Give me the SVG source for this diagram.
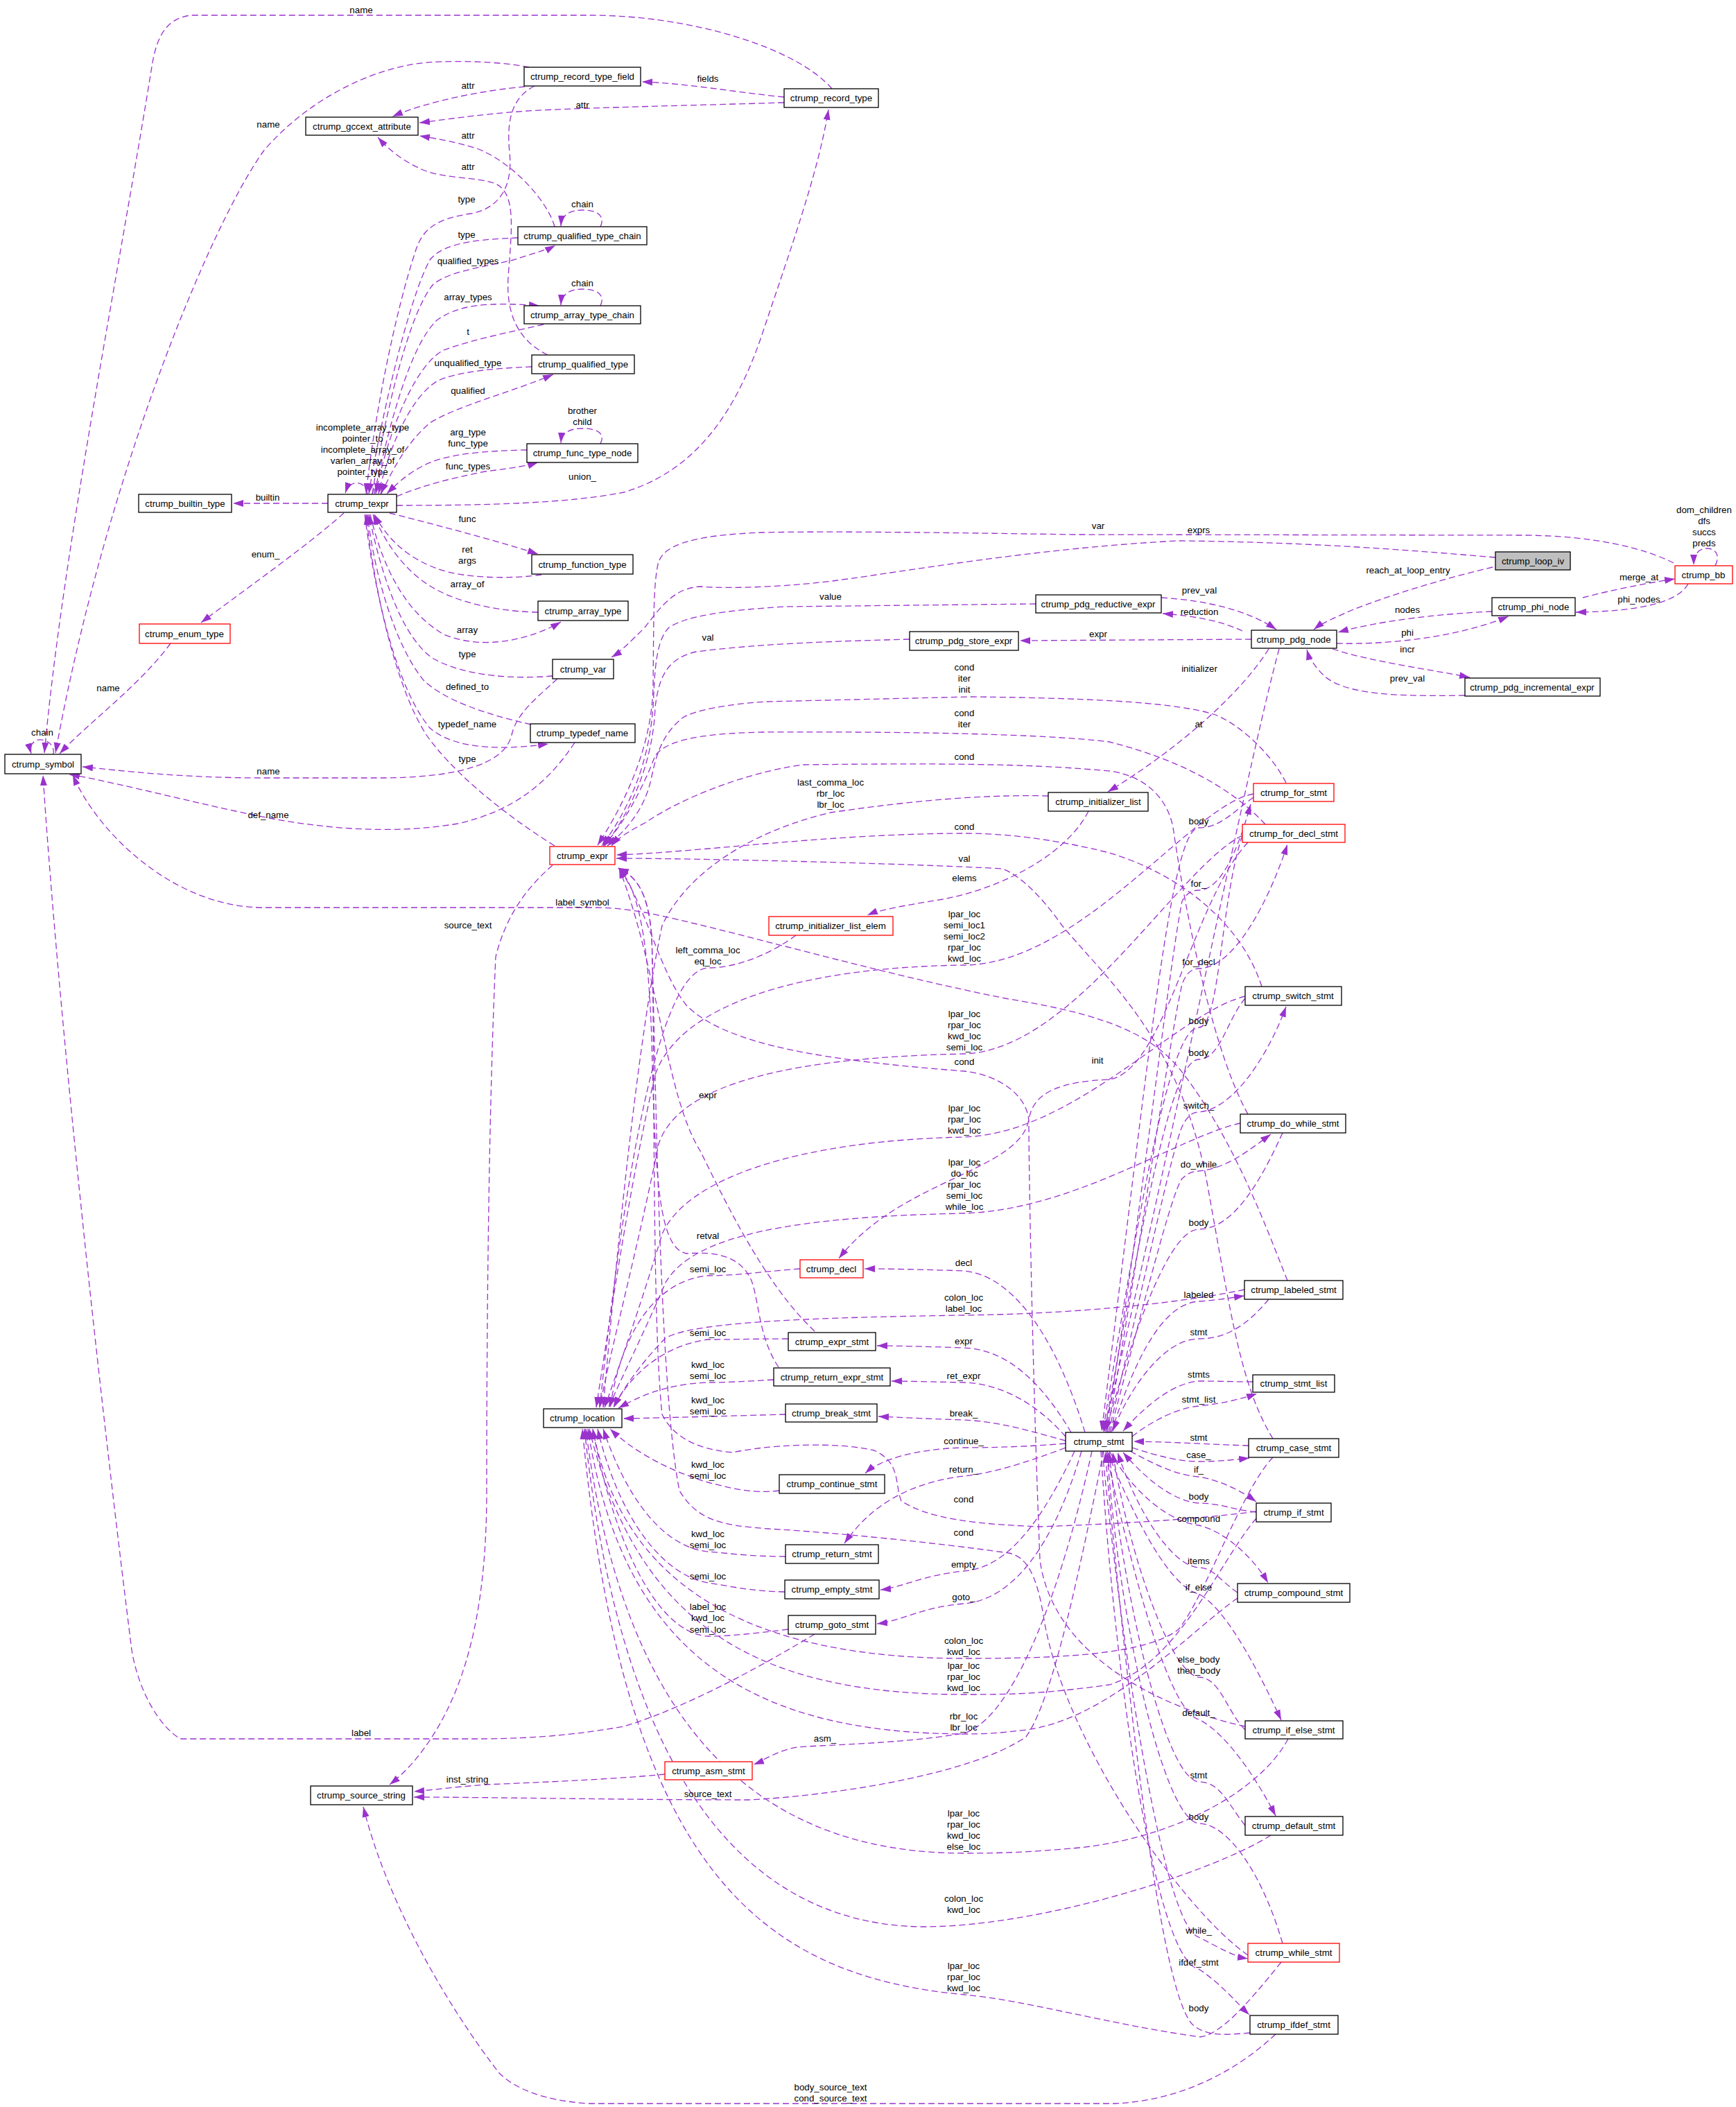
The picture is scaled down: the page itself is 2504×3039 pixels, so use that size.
<svg xmlns="http://www.w3.org/2000/svg" width="2504" height="3039" viewBox="0 0 2504 3039">
<style>
.bg{fill:#fff}
.node rect{fill:#fff;stroke:#000;stroke-width:1.3}
.node.red rect{stroke:#ff0000}
.node.cur rect{fill:#bfbfbf}
.node text{font-family:"Liberation Sans",Arial,sans-serif;font-size:13.3px;text-anchor:middle;fill:#000}
.e{fill:none;stroke:#9a32cd;stroke-width:1.3;stroke-dasharray:9,5;marker-end:url(#a)}
.l{font-family:"Liberation Sans",Arial,sans-serif;font-size:13.3px;text-anchor:middle;fill:#000}
</style>
<defs>
<marker id="a" markerUnits="userSpaceOnUse" markerWidth="16" markerHeight="12" refX="15" refY="6" orient="auto"><path d="M0,1 L15,6 L0,11 z" fill="#9a32cd"/></marker>
</defs>
<rect class="bg" x="0" y="0" width="2504" height="3039"/>
<g id="edges">
<path class="e" d="M 1200 128 C 1150 70, 1000 22, 850 22 L 275 22 C 245 26, 228 45, 220 90 C 170 400, 90 800, 64 1086"/>
<path class="e" d="M 763 97 C 720 88, 640 86, 600 92 C 500 108, 420 170, 380 218 C 300 330, 150 700, 80 1086"/>
<path class="e" d="M 1131 140 C 1060 133, 990 120, 926 118"/>
<path class="e" d="M 1131 148 C 1000 152, 850 155, 760 160 C 680 166, 640 173, 605 177"/>
<path class="e" d="M 757 125 C 700 130, 620 145, 566 168"/>
<path class="e" d="M 800 327 C 790 290, 740 235, 690 215 C 660 205, 630 200, 605 196"/>
<path class="e" d="M 790 512 C 745 490, 730 450, 733 400 C 738 330, 745 280, 715 265 C 690 255, 640 258, 610 245 C 580 232, 560 215, 545 198"/>
<path class="e" d="M 771 124 C 740 140, 730 170, 735 220 C 740 270, 720 300, 680 308 C 630 315, 610 330, 600 360 C 570 450, 540 600, 528 712"/>
<path class="e" d="M 747 343 C 700 345, 640 348, 620 375 C 590 430, 550 600, 532 712"/>
<path class="e" d="M 537 712 C 555 600, 590 450, 625 410 C 650 390, 700 385, 740 375 C 770 365, 790 360, 801 354"/>
<path class="e" d="M 866 327 C 874 310, 860 303, 840 303 C 822 303, 810 310, 809 326"/>
<path class="e" d="M 540 712 C 560 620, 590 500, 630 462 C 660 440, 700 435, 778 441"/>
<path class="e" d="M 866 441 C 874 424, 860 417, 840 417 C 822 417, 810 424, 809 440"/>
<path class="e" d="M 784 468 C 740 478, 680 490, 640 505 C 600 525, 560 620, 542 712"/>
<path class="e" d="M 767 529 C 720 531, 660 535, 630 550 C 590 575, 560 650, 546 712"/>
<path class="e" d="M 550 712 C 565 680, 585 640, 620 610 C 660 585, 740 565, 798 540"/>
<path class="e" d="M 760 649 C 700 650, 640 655, 610 672 C 585 685, 570 700, 558 712"/>
<path class="e" d="M 572 716 C 610 700, 650 690, 700 680 C 740 675, 760 672, 776 667"/>
<path class="e" d="M 866 640 C 874 624, 860 618, 840 618 C 822 618, 810 624, 809 639"/>
<path class="e" d="M 572 729 C 700 729, 820 726, 900 710 C 1000 680, 1060 600, 1100 480 C 1140 360, 1180 250, 1195 158"/>
<path class="e" d="M 530 713 C 528 693, 505 690, 498 711"/>
<path class="e" d="M 537 713 C 542 693, 558 693, 549 712"/>
<path class="e" d="M 473 726 L 336 726"/>
<path class="e" d="M 562 740 C 620 755, 700 775, 776 799"/>
<path class="e" d="M 781 829 C 740 835, 670 835, 630 820 C 590 805, 560 780, 540 742"/>
<path class="e" d="M 776 883 C 720 882, 660 870, 620 845 C 580 820, 555 780, 538 742"/>
<path class="e" d="M 534 742 C 550 810, 580 880, 640 915 C 700 940, 770 920, 809 897"/>
<path class="e" d="M 797 975 C 740 980, 670 975, 625 950 C 580 920, 550 830, 532 742"/>
<path class="e" d="M 766 1045 C 700 1030, 640 1010, 610 980 C 570 930, 540 830, 530 742"/>
<path class="e" d="M 526 742 C 540 850, 570 990, 620 1050 C 660 1085, 740 1080, 791 1073"/>
<path class="e" d="M 804 979 C 770 1010, 745 1030, 738 1060 C 730 1095, 680 1120, 560 1122 L 380 1122 C 260 1122, 180 1112, 119 1106"/>
<path class="e" d="M 829 1071 C 790 1130, 740 1170, 660 1188 C 560 1205, 450 1195, 340 1170 C 240 1148, 150 1125, 100 1117"/>
<path class="e" d="M 246 928 C 200 990, 130 1040, 86 1087"/>
<path class="e" d="M 496 740 C 440 790, 340 860, 290 898"/>
<path class="e" d="M 77 1088 C 80 1070, 60 1064, 52 1068 C 44 1072, 43 1080, 45 1087"/>
<path class="e" d="M 800 1220 C 720 1170, 650 1110, 615 1060 C 570 990, 540 850, 528 742"/>
<path class="e" d="M 1857 1847 C 1830 1780, 1780 1640, 1700 1540 C 1650 1480, 1560 1458, 1450 1440 C 1250 1400, 1050 1340, 930 1316 C 900 1311, 880 1309, 860 1309 L 380 1309 C 250 1309, 140 1200, 105 1118"/>
<path class="e" d="M 797 1248 C 760 1280, 730 1320, 715 1380 C 705 1600, 702 1900, 702 2150 C 702 2300, 680 2420, 620 2510 C 600 2540, 580 2560, 562 2574"/>
<path class="e" d="M 1175 2357 C 1120 2390, 1000 2460, 900 2490 C 800 2508, 720 2508, 680 2508 L 260 2508 C 230 2490, 200 2440, 190 2380 C 130 1900, 80 1400, 62 1118"/>
<path class="e" d="M 959 2559 C 900 2565, 800 2570, 700 2574 C 650 2578, 620 2582, 597 2584"/>
<path class="e" d="M 1592 2093 C 1560 2250, 1520 2450, 1480 2505 C 1400 2560, 1200 2590, 1080 2596 C 900 2596, 700 2592, 597 2592"/>
<path class="e" d="M 1840 2934 C 1780 2990, 1700 3030, 1608 3034 L 850 3034 C 780 3030, 740 3010, 720 2990 C 650 2900, 560 2750, 524 2606"/>
<path class="e" d="M 2157 804 C 2050 795, 1900 782, 1700 780 C 1500 790, 1300 825, 1208 837 C 1150 845, 1060 850, 1010 846 C 970 848, 950 880, 930 905 C 910 925, 895 940, 882 948"/>
<path class="e" d="M 2414 812 C 2370 790, 2300 773, 2200 772 L 1550 771 C 1350 768, 1200 766, 1100 768 C 1000 772, 960 785, 950 810 C 942 840, 943 900, 942 990 C 940 1080, 900 1160, 862 1219"/>
<path class="e" d="M 2153 818 C 2080 835, 2000 860, 1950 880 C 1920 893, 1905 900, 1895 908"/>
<path class="e" d="M 1675 862 C 1740 866, 1800 880, 1841 908"/>
<path class="e" d="M 1792 910 C 1760 895, 1720 888, 1677 885"/>
<path class="e" d="M 1805 922 L 1471 924"/>
<path class="e" d="M 2152 882 C 2080 885, 1990 895, 1930 912"/>
<path class="e" d="M 1928 928 C 2000 930, 2100 920, 2176 889"/>
<path class="e" d="M 1922 936 C 1980 955, 2060 965, 2120 977"/>
<path class="e" d="M 2113 1003 C 2000 1005, 1940 1000, 1910 975 C 1895 960, 1888 948, 1885 937"/>
<path class="e" d="M 2283 862 C 2320 852, 2380 840, 2416 835"/>
<path class="e" d="M 2435 842 C 2420 870, 2360 882, 2273 883"/>
<path class="e" d="M 2474 816 C 2482 800, 2474 791, 2462 791 C 2450 791, 2443 800, 2443 815"/>
<path class="e" d="M 1494 871 L 1132 875 C 1050 880, 990 888, 965 905 C 950 920, 945 950, 943 1000 C 940 1100, 905 1170, 868 1220"/>
<path class="e" d="M 1312 922 C 1200 925, 1100 928, 1004 940 C 960 950, 950 980, 945 1020 C 942 1100, 910 1170, 872 1220"/>
<path class="e" d="M 1830 936 C 1790 1000, 1700 1080, 1598 1142"/>
<path class="e" d="M 1845 936 C 1800 1100, 1680 1700, 1592 2065"/>
<path class="e" d="M 1855 1129 C 1830 1080, 1780 1040, 1750 1030 C 1700 1015, 1600 1007, 1400 1005 L 1106 1012 C 1050 1015, 1000 1025, 985 1035 C 960 1055, 948 1080, 940 1120 C 930 1170, 900 1200, 876 1220"/>
<path class="e" d="M 1825 1189 C 1790 1150, 1720 1100, 1600 1070 C 1500 1058, 1300 1055, 1100 1056 C 1000 1058, 960 1070, 945 1090 C 930 1130, 900 1190, 870 1220"/>
<path class="e" d="M 1800 1607 C 1740 1500, 1700 1250, 1693 1200 C 1688 1160, 1660 1120, 1600 1112 C 1500 1103, 1400 1100, 1159 1103 C 1100 1110, 1000 1140, 930 1187 C 905 1200, 890 1210, 882 1220"/>
<path class="e" d="M 1820 1423 C 1790 1330, 1700 1260, 1600 1230 C 1520 1210, 1450 1202, 1391 1202 C 1200 1202, 1000 1230, 889 1233"/>
<path class="e" d="M 1836 2075 C 1790 2000, 1776 1900, 1740 1700 C 1700 1500, 1600 1416, 1532 1335 C 1500 1290, 1470 1262, 1446 1253 C 1300 1245, 1000 1238, 889 1238"/>
<path class="e" d="M 1796 2490 C 1700 2470, 1520 2400, 1500 2250 C 1490 2000, 1484 1700, 1484 1620 C 1484 1580, 1440 1550, 1391 1545 C 1200 1530, 1050 1510, 990 1450 C 950 1400, 930 1300, 892 1252"/>
<path class="e" d="M 1812 2180 C 1700 2195, 1550 2200, 1500 2202 C 1400 2198, 1340 2190, 1300 2165 C 1290 2140, 1300 2110, 1261 2092 C 1200 2078, 1100 2085, 1057 2095 C 1000 2090, 970 2070, 955 2040 C 940 1900, 945 1500, 940 1350 C 935 1290, 920 1265, 892 1252"/>
<path class="e" d="M 1800 2820 C 1700 2750, 1530 2500, 1505 2330 C 1495 2270, 1480 2245, 1455 2240 C 1350 2225, 1200 2210, 1108 2205 C 1040 2200, 1006 2193, 980 2150 C 950 2000, 945 1500, 940 1350 C 935 1290, 920 1265, 892 1252"/>
<path class="e" d="M 1595 2066 C 1640 1800, 1685 1400, 1705 1300 C 1710 1290, 1718 1284, 1729 1284 C 1765 1284, 1790 1210, 1804 1160"/>
<path class="e" d="M 1597 2066 C 1645 1800, 1690 1480, 1705 1420 C 1710 1405, 1718 1397, 1729 1397 C 1780 1397, 1830 1300, 1857 1218"/>
<path class="e" d="M 1599 2066 C 1650 1850, 1690 1660, 1705 1625 C 1712 1610, 1720 1604, 1729 1604 C 1780 1600, 1830 1520, 1855 1452"/>
<path class="e" d="M 1601 2066 C 1650 1880, 1690 1720, 1705 1700 C 1712 1693, 1720 1689, 1729 1689 C 1770 1685, 1800 1660, 1833 1636"/>
<path class="e" d="M 1603 2066 C 1640 1950, 1680 1880, 1729 1877 C 1760 1875, 1780 1871, 1795 1869"/>
<path class="e" d="M 1633 2072 C 1660 2050, 1700 2030, 1729 2028 C 1760 2025, 1790 2018, 1813 2010"/>
<path class="e" d="M 1633 2088 C 1670 2100, 1700 2108, 1729 2108 C 1760 2108, 1785 2105, 1802 2103"/>
<path class="e" d="M 1630 2093 C 1670 2115, 1700 2128, 1729 2130 C 1760 2135, 1790 2150, 1812 2166"/>
<path class="e" d="M 1600 2093 C 1640 2160, 1690 2195, 1729 2200 C 1770 2210, 1810 2250, 1829 2283"/>
<path class="e" d="M 1597 2093 C 1640 2200, 1690 2290, 1729 2299 C 1770 2320, 1820 2420, 1848 2481"/>
<path class="e" d="M 1595 2093 C 1640 2300, 1690 2470, 1729 2480 C 1770 2500, 1815 2570, 1840 2619"/>
<path class="e" d="M 1590 2093 C 1620 2400, 1680 2780, 1729 2794 C 1760 2810, 1780 2822, 1800 2825"/>
<path class="e" d="M 1588 2093 C 1610 2450, 1670 2830, 1729 2840 C 1760 2860, 1785 2890, 1802 2906"/>
<path class="e" d="M 1808 1150 C 1780 1170, 1760 1194, 1729 1194 C 1690 1194, 1660 1500, 1589 2064"/>
<path class="e" d="M 1792 1205 C 1760 1300, 1760 1482, 1729 1482 C 1690 1482, 1650 1700, 1591 2064"/>
<path class="e" d="M 1796 1440 C 1770 1470, 1760 1528, 1729 1528 C 1690 1528, 1650 1750, 1593 2064"/>
<path class="e" d="M 1850 1634 C 1820 1700, 1780 1773, 1729 1773 C 1690 1773, 1640 1900, 1595 2064"/>
<path class="e" d="M 1830 1874 C 1800 1910, 1770 1931, 1729 1931 C 1680 1931, 1630 2000, 1605 2064"/>
<path class="e" d="M 1807 1993 C 1780 1993, 1760 1992, 1729 1992 C 1690 1995, 1650 2030, 1620 2064"/>
<path class="e" d="M 1801 2085 C 1760 2084, 1700 2080, 1635 2079"/>
<path class="e" d="M 1812 2181 C 1780 2178, 1760 2168, 1729 2168 C 1690 2165, 1650 2130, 1620 2095"/>
<path class="e" d="M 1785 2297 C 1760 2280, 1750 2261, 1729 2261 C 1690 2258, 1640 2180, 1612 2095"/>
<path class="e" d="M 1796 2495 C 1770 2470, 1760 2419, 1729 2419 C 1690 2415, 1630 2250, 1605 2095"/>
<path class="e" d="M 1796 2633 C 1770 2600, 1760 2570, 1729 2570 C 1680 2565, 1620 2300, 1600 2095"/>
<path class="e" d="M 1850 2803 C 1820 2700, 1770 2630, 1729 2630 C 1680 2625, 1615 2350, 1597 2095"/>
<path class="e" d="M 1803 2932 C 1770 2935, 1740 2938, 1720 2920 C 1690 2889, 1650 2700, 1594 2095"/>
<path class="e" d="M 1565 2066 C 1530 1950, 1470 1840, 1390 1833 C 1330 1831, 1280 1830, 1247 1830"/>
<path class="e" d="M 1545 2066 C 1500 1990, 1450 1946, 1390 1944 C 1330 1942, 1290 1941, 1265 1941"/>
<path class="e" d="M 1537 2072 C 1500 2030, 1450 1996, 1390 1994 C 1340 1993, 1310 1992, 1286 1992"/>
<path class="e" d="M 1537 2078 C 1490 2065, 1440 2050, 1390 2048 C 1330 2046, 1290 2044, 1267 2043"/>
<path class="e" d="M 1537 2082 C 1490 2086, 1440 2088, 1390 2088 C 1320 2090, 1270 2105, 1248 2125"/>
<path class="e" d="M 1537 2088 C 1480 2110, 1430 2125, 1390 2129 C 1300 2140, 1250 2180, 1218 2226"/>
<path class="e" d="M 1550 2093 C 1500 2200, 1450 2262, 1390 2266 C 1330 2272, 1300 2290, 1270 2293"/>
<path class="e" d="M 1560 2093 C 1520 2230, 1460 2308, 1390 2313 C 1330 2318, 1300 2338, 1265 2342"/>
<path class="e" d="M 1575 2093 C 1530 2300, 1460 2480, 1390 2500 C 1300 2515, 1200 2516, 1150 2520 C 1120 2525, 1100 2540, 1087 2545"/>
<path class="e" d="M 1154 1830 C 1100 1834, 1060 1840, 1021 1840 C 960 1845, 900 1900, 880 2030"/>
<path class="e" d="M 1137 1931 C 1090 1931, 1060 1932, 1021 1932 C 960 1940, 910 1980, 885 2030"/>
<path class="e" d="M 1116 1990 C 1080 1992, 1050 1994, 1021 1994 C 960 1996, 920 2015, 892 2031"/>
<path class="e" d="M 1133 2040 C 1060 2042, 960 2045, 899 2046"/>
<path class="e" d="M 1124 2150 C 1080 2155, 1050 2145, 1021 2138 C 960 2120, 910 2090, 880 2061"/>
<path class="e" d="M 1133 2245 C 1080 2245, 1050 2240, 1021 2238 C 950 2230, 900 2150, 870 2061"/>
<path class="e" d="M 1132 2296 C 1080 2295, 1050 2287, 1021 2283 C 950 2270, 890 2180, 862 2061"/>
<path class="e" d="M 1137 2350 C 1090 2356, 1050 2360, 1021 2360 C 940 2355, 880 2200, 855 2061"/>
<path class="e" d="M 1148 1349 C 1120 1370, 1070 1396, 1021 1396 C 950 1400, 900 1700, 865 2030"/>
<path class="e" d="M 1512 1148 C 1400 1145, 1280 1160, 1198 1172 C 1080 1200, 990 1260, 955 1335 C 920 1500, 890 1800, 870 2030"/>
<path class="e" d="M 1175 1920 C 1100 1850, 1040 1720, 1010 1660 C 960 1580, 950 1400, 893 1252"/>
<path class="e" d="M 1123 1972 C 1095 1930, 1095 1880, 1085 1850 C 1070 1810, 1030 1805, 990 1808 C 950 1800, 945 1700, 940 1500 C 935 1350, 920 1280, 892 1252"/>
<path class="e" d="M 1808 1145 C 1720 1160, 1560 1390, 1391 1392 C 1150 1395, 980 1450, 945 1550 C 910 1700, 880 1900, 860 2030"/>
<path class="e" d="M 1792 1205 C 1700 1250, 1550 1515, 1391 1520 C 1150 1525, 980 1560, 950 1650 C 920 1800, 880 1950, 865 2030"/>
<path class="e" d="M 1796 1437 C 1700 1460, 1550 1635, 1391 1640 C 1150 1645, 990 1700, 955 1780 C 925 1880, 890 1980, 872 2030"/>
<path class="e" d="M 1789 1620 C 1700 1640, 1550 1745, 1391 1750 C 1150 1755, 1000 1780, 960 1850 C 930 1920, 895 1990, 878 2030"/>
<path class="e" d="M 1795 1860 C 1700 1880, 1550 1895, 1391 1897 C 1200 1900, 1000 1905, 960 1930 C 930 1960, 900 2000, 885 2030"/>
<path class="e" d="M 1836 2102 C 1790 2150, 1740 2300, 1700 2350 C 1650 2390, 1500 2392, 1391 2392 C 1100 2392, 900 2300, 855 2061"/>
<path class="e" d="M 1812 2190 C 1760 2250, 1700 2400, 1600 2430 C 1500 2444, 1450 2444, 1391 2444 C 1100 2444, 920 2350, 850 2061"/>
<path class="e" d="M 1785 2305 C 1720 2350, 1600 2480, 1480 2495 C 1440 2500, 1420 2501, 1391 2501 C 1100 2500, 900 2400, 848 2061"/>
<path class="e" d="M 1858 2508 C 1820 2580, 1700 2650, 1557 2665 C 1480 2672, 1440 2673, 1391 2673 C 1100 2673, 900 2500, 845 2061"/>
<path class="e" d="M 1833 2647 C 1750 2700, 1500 2780, 1328 2779 C 1100 2775, 900 2600, 843 2061"/>
<path class="e" d="M 1848 2830 C 1800 2890, 1760 2935, 1731 2938 C 1600 2920, 1480 2885, 1391 2877 C 1100 2850, 900 2700, 840 2061"/>
<path class="e" d="M 1800 1215 C 1720 1300, 1680 1545, 1600 1557 C 1530 1560, 1490 1575, 1484 1615 C 1470 1690, 1300 1700, 1210 1815"/>
<path class="e" d="M 1570 1170 C 1540 1230, 1450 1280, 1360 1297 C 1310 1305, 1270 1312, 1251 1320"/>
</g>
<g id="labels">
<text class="l" x="521" y="19">name</text>
<text class="l" x="387" y="184">name</text>
<text class="l" x="1021" y="118">fields</text>
<text class="l" x="840" y="156">attr</text>
<text class="l" x="675" y="128">attr</text>
<text class="l" x="675" y="200">attr</text>
<text class="l" x="675" y="245">attr</text>
<text class="l" x="673" y="292">type</text>
<text class="l" x="673" y="343">type</text>
<text class="l" x="675" y="381">qualified_types</text>
<text class="l" x="840" y="299">chain</text>
<text class="l" x="675" y="433">array_types</text>
<text class="l" x="840" y="413">chain</text>
<text class="l" x="675" y="483">t</text>
<text class="l" x="675" y="528">unqualified_type</text>
<text class="l" x="675" y="568">qualified</text>
<text class="l" x="675" y="628">arg_type</text>
<text class="l" x="675" y="644">func_type</text>
<text class="l" x="675" y="677">func_types</text>
<text class="l" x="840" y="597">brother</text>
<text class="l" x="840" y="613">child</text>
<text class="l" x="840" y="692">union_</text>
<text class="l" x="523" y="621">incomplete_array_type</text>
<text class="l" x="523" y="637">pointer_to</text>
<text class="l" x="523" y="653">incomplete_array_of</text>
<text class="l" x="523" y="669">varlen_array_of</text>
<text class="l" x="523" y="685">pointer_type</text>
<text class="l" x="386" y="722">builtin</text>
<text class="l" x="674" y="753">func</text>
<text class="l" x="674" y="797">ret</text>
<text class="l" x="674" y="813">args</text>
<text class="l" x="674" y="847">array_of</text>
<text class="l" x="674" y="913">array</text>
<text class="l" x="674" y="948">type</text>
<text class="l" x="674" y="995">defined_to</text>
<text class="l" x="674" y="1049">typedef_name</text>
<text class="l" x="674" y="1099">type</text>
<text class="l" x="387" y="1117">name</text>
<text class="l" x="387" y="1180">def_name</text>
<text class="l" x="156" y="997">name</text>
<text class="l" x="383" y="804">enum_</text>
<text class="l" x="61" y="1061">chain</text>
<text class="l" x="840" y="1306">label_symbol</text>
<text class="l" x="675" y="1339">source_text</text>
<text class="l" x="521" y="2504">label</text>
<text class="l" x="674" y="2571">inst_string</text>
<text class="l" x="1021" y="2592">source_text</text>
<text class="l" x="1198" y="3015">body_source_text</text>
<text class="l" x="1198" y="3031">cond_source_text</text>
<text class="l" x="1584" y="763">var</text>
<text class="l" x="1729" y="769">exprs</text>
<text class="l" x="2031" y="827">reach_at_loop_entry</text>
<text class="l" x="1730" y="856">prev_val</text>
<text class="l" x="1730" y="887">reduction</text>
<text class="l" x="1584" y="919">expr</text>
<text class="l" x="2030" y="884">nodes</text>
<text class="l" x="2030" y="917">phi</text>
<text class="l" x="2030" y="941">incr</text>
<text class="l" x="2030" y="983">prev_val</text>
<text class="l" x="2364" y="837">merge_at</text>
<text class="l" x="2364" y="869">phi_nodes</text>
<text class="l" x="2458" y="740">dom_children</text>
<text class="l" x="2458" y="756">dfs</text>
<text class="l" x="2458" y="772">succs</text>
<text class="l" x="2458" y="788">preds</text>
<text class="l" x="1198" y="865">value</text>
<text class="l" x="1021" y="924">val</text>
<text class="l" x="1730" y="969">initializer</text>
<text class="l" x="1729" y="1049">at</text>
<text class="l" x="1391" y="967">cond</text>
<text class="l" x="1391" y="983">iter</text>
<text class="l" x="1391" y="999">init</text>
<text class="l" x="1391" y="1033">cond</text>
<text class="l" x="1391" y="1049">iter</text>
<text class="l" x="1391" y="1096">cond</text>
<text class="l" x="1198" y="1133">last_comma_loc</text>
<text class="l" x="1198" y="1149">rbr_loc</text>
<text class="l" x="1198" y="1165">lbr_loc</text>
<text class="l" x="1391" y="1197">cond</text>
<text class="l" x="1391" y="1243">val</text>
<text class="l" x="1391" y="1271">elems</text>
<text class="l" x="1391" y="1323">lpar_loc</text>
<text class="l" x="1391" y="1339">semi_loc1</text>
<text class="l" x="1391" y="1355">semi_loc2</text>
<text class="l" x="1391" y="1371">rpar_loc</text>
<text class="l" x="1391" y="1387">kwd_loc</text>
<text class="l" x="1021" y="1375">left_comma_loc</text>
<text class="l" x="1021" y="1391">eq_loc</text>
<text class="l" x="1391" y="1467">lpar_loc</text>
<text class="l" x="1391" y="1483">rpar_loc</text>
<text class="l" x="1391" y="1499">kwd_loc</text>
<text class="l" x="1391" y="1515">semi_loc</text>
<text class="l" x="1391" y="1536">cond</text>
<text class="l" x="1583" y="1534">init</text>
<text class="l" x="1021" y="1584">expr</text>
<text class="l" x="1391" y="1603">lpar_loc</text>
<text class="l" x="1391" y="1619">rpar_loc</text>
<text class="l" x="1391" y="1635">kwd_loc</text>
<text class="l" x="1391" y="1681">lpar_loc</text>
<text class="l" x="1391" y="1697">do_loc</text>
<text class="l" x="1391" y="1713">rpar_loc</text>
<text class="l" x="1391" y="1729">semi_loc</text>
<text class="l" x="1391" y="1745">while_loc</text>
<text class="l" x="1729" y="1189">body</text>
<text class="l" x="1729" y="1279">for_</text>
<text class="l" x="1729" y="1392">for_decl</text>
<text class="l" x="1729" y="1477">body</text>
<text class="l" x="1729" y="1523">body</text>
<text class="l" x="1729" y="1599">switch_</text>
<text class="l" x="1729" y="1684">do_while</text>
<text class="l" x="1729" y="1768">body</text>
<text class="l" x="1729" y="1872">labeled</text>
<text class="l" x="1729" y="1926">stmt</text>
<text class="l" x="1729" y="1987">stmts</text>
<text class="l" x="1729" y="2023">stmt_list</text>
<text class="l" x="1729" y="2078">stmt</text>
<text class="l" x="1729" y="2103">case_</text>
<text class="l" x="1729" y="2124">if_</text>
<text class="l" x="1729" y="2163">body</text>
<text class="l" x="1729" y="2195">compound</text>
<text class="l" x="1729" y="2256">items</text>
<text class="l" x="1729" y="2294">if_else</text>
<text class="l" x="1729" y="2398">else_body</text>
<text class="l" x="1729" y="2414">then_body</text>
<text class="l" x="1729" y="2475">default_</text>
<text class="l" x="1729" y="2565">stmt</text>
<text class="l" x="1729" y="2625">body</text>
<text class="l" x="1729" y="2789">while_</text>
<text class="l" x="1729" y="2835">ifdef_stmt</text>
<text class="l" x="1729" y="2901">body</text>
<text class="l" x="1021" y="1787">retval</text>
<text class="l" x="1021" y="1835">semi_loc</text>
<text class="l" x="1021" y="1927">semi_loc</text>
<text class="l" x="1021" y="1973">kwd_loc</text>
<text class="l" x="1021" y="1989">semi_loc</text>
<text class="l" x="1021" y="2024">kwd_loc</text>
<text class="l" x="1021" y="2040">semi_loc</text>
<text class="l" x="1021" y="2117">kwd_loc</text>
<text class="l" x="1021" y="2133">semi_loc</text>
<text class="l" x="1021" y="2217">kwd_loc</text>
<text class="l" x="1021" y="2233">semi_loc</text>
<text class="l" x="1021" y="2278">semi_loc</text>
<text class="l" x="1021" y="2322">label_loc</text>
<text class="l" x="1021" y="2338">kwd_loc</text>
<text class="l" x="1021" y="2355">semi_loc</text>
<text class="l" x="1390" y="1826">decl</text>
<text class="l" x="1390" y="1876">colon_loc</text>
<text class="l" x="1390" y="1892">label_loc</text>
<text class="l" x="1390" y="1939">expr</text>
<text class="l" x="1390" y="1989">ret_expr</text>
<text class="l" x="1390" y="2043">break_</text>
<text class="l" x="1390" y="2083">continue_</text>
<text class="l" x="1390" y="2124">return_</text>
<text class="l" x="1390" y="2167">cond</text>
<text class="l" x="1390" y="2215">cond</text>
<text class="l" x="1390" y="2261">empty</text>
<text class="l" x="1390" y="2308">goto_</text>
<text class="l" x="1390" y="2371">colon_loc</text>
<text class="l" x="1390" y="2387">kwd_loc</text>
<text class="l" x="1390" y="2407">lpar_loc</text>
<text class="l" x="1390" y="2423">rpar_loc</text>
<text class="l" x="1390" y="2439">kwd_loc</text>
<text class="l" x="1390" y="2480">rbr_loc</text>
<text class="l" x="1390" y="2496">lbr_loc</text>
<text class="l" x="1190" y="2512">asm_</text>
<text class="l" x="1390" y="2620">lpar_loc</text>
<text class="l" x="1390" y="2636">rpar_loc</text>
<text class="l" x="1390" y="2652">kwd_loc</text>
<text class="l" x="1390" y="2668">else_loc</text>
<text class="l" x="1390" y="2743">colon_loc</text>
<text class="l" x="1390" y="2759">kwd_loc</text>
<text class="l" x="1390" y="2840">lpar_loc</text>
<text class="l" x="1390" y="2856">rpar_loc</text>
<text class="l" x="1390" y="2872">kwd_loc</text>
</g>
<g id="n-record_type_field" class="node"><rect x="756" y="97" width="168" height="27"/><text x="840" y="115">ctrump_record_type_field</text></g>
<g id="n-record_type" class="node"><rect x="1131" y="128" width="136" height="27"/><text x="1199" y="146">ctrump_record_type</text></g>
<g id="n-gccext_attribute" class="node"><rect x="441" y="169" width="162" height="26"/><text x="522" y="187">ctrump_gccext_attribute</text></g>
<g id="n-qualified_type_chain" class="node"><rect x="747" y="327" width="186" height="26"/><text x="840" y="345">ctrump_qualified_type_chain</text></g>
<g id="n-array_type_chain" class="node"><rect x="756" y="441" width="168" height="26"/><text x="840" y="459">ctrump_array_type_chain</text></g>
<g id="n-qualified_type" class="node"><rect x="767" y="512" width="148" height="27"/><text x="841" y="530">ctrump_qualified_type</text></g>
<g id="n-func_type_node" class="node"><rect x="760" y="640" width="160" height="27"/><text x="840" y="658">ctrump_func_type_node</text></g>
<g id="n-builtin_type" class="node"><rect x="200" y="713" width="134" height="26"/><text x="267" y="731">ctrump_builtin_type</text></g>
<g id="n-texpr" class="node"><rect x="473" y="713" width="99" height="26"/><text x="522" y="731">ctrump_texpr</text></g>
<g id="n-function_type" class="node"><rect x="767" y="800" width="146" height="28"/><text x="840" y="819">ctrump_function_type</text></g>
<g id="n-array_type" class="node"><rect x="776" y="867" width="130" height="28"/><text x="841" y="886">ctrump_array_type</text></g>
<g id="n-var" class="node"><rect x="797" y="951" width="88" height="28"/><text x="841" y="970">ctrump_var</text></g>
<g id="n-typedef_name" class="node"><rect x="765" y="1044" width="151" height="27"/><text x="840" y="1062">ctrump_typedef_name</text></g>
<g id="n-enum_type" class="node red"><rect x="201" y="900" width="131" height="28"/><text x="266" y="919">ctrump_enum_type</text></g>
<g id="n-symbol" class="node"><rect x="7" y="1088" width="110" height="28"/><text x="62" y="1107">ctrump_symbol</text></g>
<g id="n-expr" class="node red"><rect x="793" y="1221" width="94" height="26"/><text x="840" y="1239">ctrump_expr</text></g>
<g id="n-loop_iv" class="node cur"><rect x="2157" y="796" width="108" height="26"/><text x="2211" y="814">ctrump_loop_iv</text></g>
<g id="n-bb" class="node red"><rect x="2416" y="816" width="83" height="26"/><text x="2457" y="834">ctrump_bb</text></g>
<g id="n-pdg_reductive_expr" class="node"><rect x="1494" y="858" width="181" height="26"/><text x="1584" y="876">ctrump_pdg_reductive_expr</text></g>
<g id="n-pdg_node" class="node"><rect x="1805" y="909" width="123" height="26"/><text x="1866" y="927">ctrump_pdg_node</text></g>
<g id="n-phi_node" class="node"><rect x="2152" y="862" width="120" height="26"/><text x="2212" y="880">ctrump_phi_node</text></g>
<g id="n-pdg_store_expr" class="node"><rect x="1312" y="911" width="157" height="27"/><text x="1390" y="929">ctrump_pdg_store_expr</text></g>
<g id="n-pdg_incremental_expr" class="node"><rect x="2113" y="978" width="195" height="26"/><text x="2210" y="996">ctrump_pdg_incremental_expr</text></g>
<g id="n-initializer_list" class="node"><rect x="1512" y="1143" width="144" height="27"/><text x="1584" y="1161">ctrump_initializer_list</text></g>
<g id="n-for_stmt" class="node red"><rect x="1808" y="1130" width="116" height="26"/><text x="1866" y="1148">ctrump_for_stmt</text></g>
<g id="n-for_decl_stmt" class="node red"><rect x="1792" y="1189" width="148" height="26"/><text x="1866" y="1207">ctrump_for_decl_stmt</text></g>
<g id="n-initializer_list_elem" class="node red"><rect x="1109" y="1322" width="179" height="27"/><text x="1198" y="1340">ctrump_initializer_list_elem</text></g>
<g id="n-switch_stmt" class="node"><rect x="1796" y="1423" width="139" height="27"/><text x="1865" y="1441">ctrump_switch_stmt</text></g>
<g id="n-do_while_stmt" class="node"><rect x="1789" y="1607" width="152" height="27"/><text x="1865" y="1625">ctrump_do_while_stmt</text></g>
<g id="n-decl" class="node red"><rect x="1154" y="1817" width="91" height="26"/><text x="1199" y="1835">ctrump_decl</text></g>
<g id="n-labeled_stmt" class="node"><rect x="1795" y="1847" width="142" height="27"/><text x="1866" y="1865">ctrump_labeled_stmt</text></g>
<g id="n-expr_stmt" class="node"><rect x="1137" y="1922" width="126" height="26"/><text x="1200" y="1940">ctrump_expr_stmt</text></g>
<g id="n-return_expr_stmt" class="node"><rect x="1116" y="1973" width="168" height="26"/><text x="1200" y="1991">ctrump_return_expr_stmt</text></g>
<g id="n-stmt_list" class="node"><rect x="1807" y="1983" width="118" height="25"/><text x="1866" y="2000">ctrump_stmt_list</text></g>
<g id="n-break_stmt" class="node"><rect x="1133" y="2025" width="132" height="26"/><text x="1199" y="2043">ctrump_break_stmt</text></g>
<g id="n-location" class="node"><rect x="784" y="2032" width="113" height="27"/><text x="840" y="2050">ctrump_location</text></g>
<g id="n-stmt" class="node"><rect x="1537" y="2066" width="96" height="27"/><text x="1585" y="2084">ctrump_stmt</text></g>
<g id="n-case_stmt" class="node"><rect x="1801" y="2075" width="130" height="27"/><text x="1866" y="2093">ctrump_case_stmt</text></g>
<g id="n-continue_stmt" class="node"><rect x="1124" y="2127" width="152" height="27"/><text x="1200" y="2145">ctrump_continue_stmt</text></g>
<g id="n-if_stmt" class="node"><rect x="1812" y="2168" width="108" height="27"/><text x="1866" y="2186">ctrump_if_stmt</text></g>
<g id="n-return_stmt" class="node"><rect x="1133" y="2228" width="134" height="27"/><text x="1200" y="2246">ctrump_return_stmt</text></g>
<g id="n-empty_stmt" class="node"><rect x="1132" y="2279" width="136" height="27"/><text x="1200" y="2297">ctrump_empty_stmt</text></g>
<g id="n-compound_stmt" class="node"><rect x="1785" y="2284" width="162" height="27"/><text x="1866" y="2302">ctrump_compound_stmt</text></g>
<g id="n-goto_stmt" class="node"><rect x="1137" y="2330" width="126" height="27"/><text x="1200" y="2348">ctrump_goto_stmt</text></g>
<g id="n-if_else_stmt" class="node"><rect x="1796" y="2482" width="141" height="26"/><text x="1866" y="2500">ctrump_if_else_stmt</text></g>
<g id="n-asm_stmt" class="node red"><rect x="959" y="2541" width="126" height="26"/><text x="1022" y="2559">ctrump_asm_stmt</text></g>
<g id="n-source_string" class="node"><rect x="448" y="2576" width="147" height="27"/><text x="521" y="2594">ctrump_source_string</text></g>
<g id="n-default_stmt" class="node"><rect x="1796" y="2620" width="141" height="27"/><text x="1866" y="2638">ctrump_default_stmt</text></g>
<g id="n-while_stmt" class="node red"><rect x="1800" y="2803" width="132" height="27"/><text x="1866" y="2821">ctrump_while_stmt</text></g>
<g id="n-ifdef_stmt" class="node"><rect x="1803" y="2907" width="127" height="27"/><text x="1866" y="2925">ctrump_ifdef_stmt</text></g>
</svg>
